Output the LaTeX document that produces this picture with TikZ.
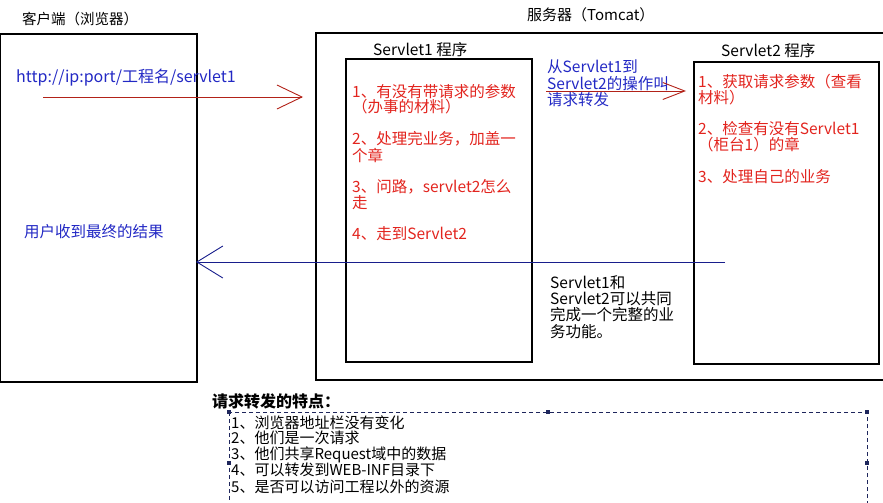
\documentclass[tikz,border=0pt]{standalone}
\usepackage{fontspec}
\setmainfont{Noto Sans CJK SC}
\usetikzlibrary{arrows.meta}
\definecolor{txtred}{RGB}{226,36,30}
\definecolor{txtblue}{RGB}{34,40,196}
\definecolor{arrred}{RGB}{178,34,24}
\definecolor{arrblue}{RGB}{24,30,140}
\definecolor{dashnavy}{RGB}{30,38,92}
\begin{document}
\begin{tikzpicture}[
        x=1pt, y=-1pt,
        box/.style={draw=black, line width=1.2pt},
        lbl/.style={anchor=west, inner sep=0pt, font=\fontsize{15.5}{16}\selectfont},
        redtxt/.style={lbl, text=txtred},
        bluetxt/.style={lbl, text=txtblue},
        redarrow/.style={draw=arrred, line width=0.9pt},
        bluearrow/.style={draw=arrblue, line width=0.9pt},
        handle/.style={fill=dashnavy, minimum size=3.5pt, inner sep=0pt},
        ]
        \clip (0,0) rectangle (883,503);

        % Boxes
        \draw[box] (0.7,34) rectangle (197,382);
        \draw[box] (316,33) rectangle (895,380);
        \draw[box] (346,59) rectangle (532,362);
        \draw[box] (694,62) rectangle (879,364);

        % Titles
        \node[lbl, font=\fontsize{14.5}{15}\selectfont] (client) at (22,19) {客户端（浏览器）};
        \node[lbl, font=\fontsize{15}{15}\selectfont] (server) at (527,15) {服务器（Tomcat）};
        \node[lbl] (s1name) at (373,50) {Servlet1 程序};
        \node[lbl] (s2name) at (721,51) {Servlet2 程序};

        % Client side
        \node[bluetxt, font=\fontsize{16}{16}\selectfont] (url) at (16,78) {http://ip:port/工程名/servlet1};
        \node[bluetxt] (result) at (24,232) {用户收到最终的结果};

        % Servlet1 steps
        \foreach \y/\t [count=\i] in {92/{1、有没有带请求的参数}, 107/{（办事的材料）},
            139/{2、处理完业务，加盖一}, 155/{个章}, 187/{3、问路，servlet2怎么},
            203/{走}, 234/{4、走到Servlet2}}
            \node[redtxt] (sa\i) at (352,\y) {\t};

        % Servlet2 steps
        \foreach \y/\t [count=\i] in {82/{1、获取请求参数（查看}, 98/{材料）},
            129/{2、检查有没有Servlet1}, 145/{（柜台1）的章}, 177/{3、处理自己的业务}}
            \node[redtxt] (sb\i) at (698,\y) {\t};

        % Forward note
        \foreach \y/\t [count=\i] in {67/{从Servlet1到}, 84/{Servlet2的操作叫}, 100/{请求转发}}
            \node[bluetxt] (fw\i) at (547,\y) {\t};

        % Together note
        \foreach \y/\t [count=\i] in {283/{Servlet1和}, 299/{Servlet2可以共同},
            315/{完成一个完整的业}, 332/{务功能。}}
            \node[lbl] (tg\i) at (550,\y) {\t};

        % Arrows
        \coordinate (reqa) at (43,97);
        \coordinate (reqb) at (303,97);
        \draw[redarrow, -{Straight Barb[length=25pt, width=24pt]}] (reqa) -- (reqb);
        \coordinate (fwa) at (546,91);
        \coordinate (fwb) at (686,91);
        \draw[redarrow, -{Straight Barb[length=22pt, width=17pt]}] (fwa) -- (fwb);
        \coordinate (resa) at (725,262);
        \coordinate (resb) at (196,262);
        \draw[bluearrow, -{Straight Barb[length=26pt, width=32pt]}] (resa) -- (resb);

        % Features
        \node[lbl, font=\fontsize{16}{16}\selectfont\bfseries] (feat) at (212,401) {请求转发的特点：};
        \draw[dashnavy, line width=0.8pt, dash pattern=on 4pt off 3pt] (229,412) rectangle (867,514);
        \foreach \p [count=\i] in {(229,412), (548,412), (867,412), (229,463), (867,463)}
            \node[handle] (hd\i) at \p {};
        \foreach \y/\t [count=\i] in {423/{1、浏览器地址栏没有变化}, 438/{2、他们是一次请求},
            455/{3、他们共享Request域中的数据}, 470/{4、可以转发到WEB-INF目录下},
            487/{5、是否可以访问工程以外的资源}}
            \node[lbl, font=\fontsize{15}{15}\selectfont] (ft\i) at (231,\y) {\t};

    \end{tikzpicture}
\end{document}
